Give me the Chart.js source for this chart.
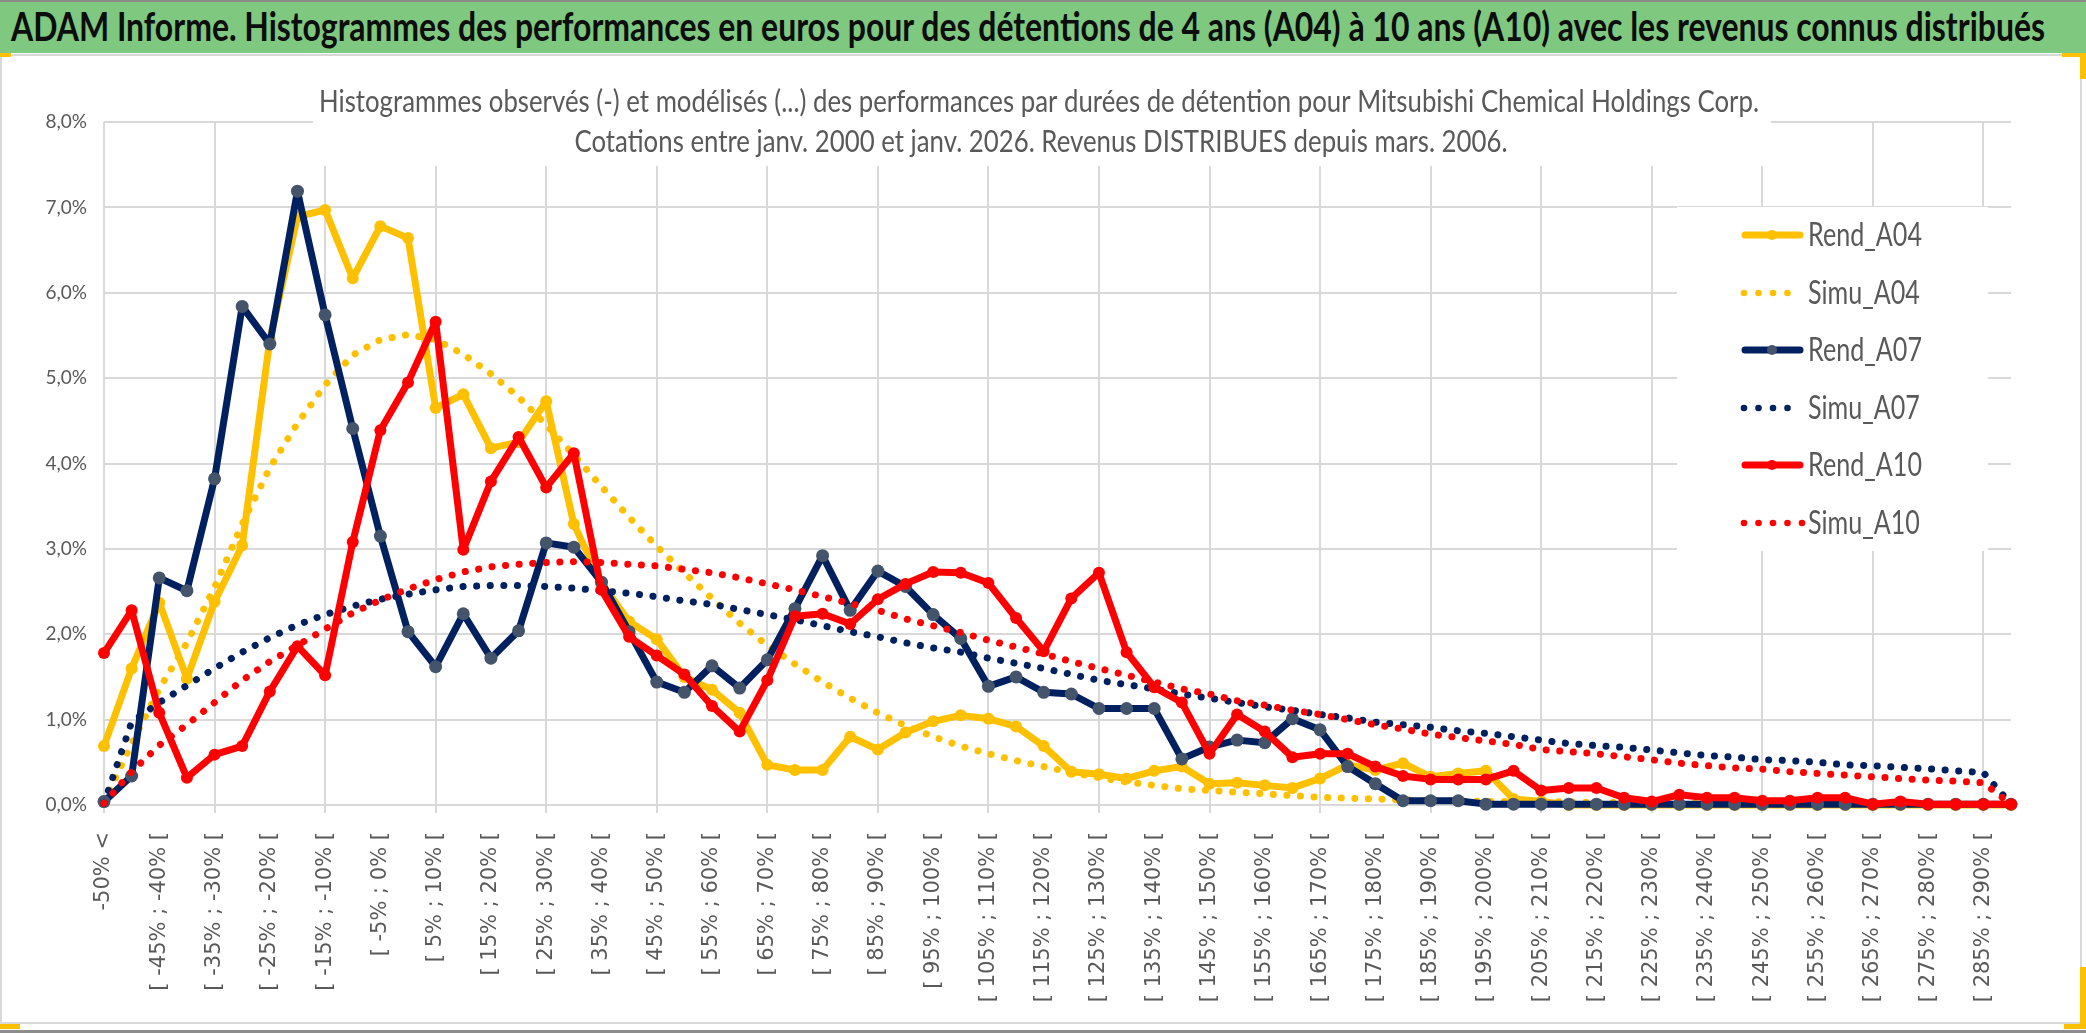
<!DOCTYPE html>
<html>
<head>
<meta charset="utf-8">
<script src="https://cdn.jsdelivr.net/npm/chart.js@4.4.1/dist/chart.umd.min.js"></script>
<style>
  html, body { margin: 0; padding: 0; background: #fff; }
  #page { position: relative; width: 2086px; height: 1033px; overflow: hidden; background: #fff; }
  #page div { position: absolute; }
  #topline { left: 0; top: 0; width: 2086px; height: 2px; background: #8c8c8c; }
  #titlebar { left: 0; top: 2px; width: 2086px; height: 51px; background: #7ec97f; }
  #title { left: 11px; top: 0; height: 51px; line-height: 51px; font: bold 40px Lato, sans-serif;
           color: #0d0d0d; white-space: nowrap; transform-origin: left center; }
  #frame { left: 0; top: 54px; width: 2078px; height: 966px; border: 2px solid #d9d9d9; }
  #bottomline { left: 0; top: 1030px; width: 2086px; height: 3px; background: #8c8c8c; }
  .mark { background: #ffc000; }
  canvas { position: absolute; left: 0; top: 0; }
</style>
</head>
<body>
<div id="page">
  <div id="frame"></div>
  <canvas id="chart" width="2086" height="1033"></canvas>
  <div id="topline"></div>
  <div id="titlebar"><div id="title">ADAM Informe. Histogrammes des performances en euros pour des détentions de 4 ans (A04) à 10 ans (A10) avec les revenus connus distribués</div></div>
  <div id="bottomline"></div>
  <div class="mark" style="left:0;top:53px;width:11px;height:4px"></div>
  <div class="mark" style="left:2062px;top:53px;width:24px;height:4px"></div>
  <div class="mark" style="left:2080px;top:53px;width:6px;height:26px"></div>
  <div class="mark" style="left:2080px;top:967px;width:6px;height:62px"></div>
  <div class="mark" style="left:2064px;top:1024px;width:22px;height:5px"></div>
  <div class="mark" style="left:0;top:1024px;width:20px;height:5px"></div>
</div>
<script>
const categories = [
  "-50% <", "[ -50% ; -45% [", "[ -45% ; -40% [", "[ -40% ; -35% [", "[ -35% ; -30% [",
  "[ -30% ; -25% [", "[ -25% ; -20% [", "[ -20% ; -15% [", "[ -15% ; -10% [", "[ -10% ; -5% [",
  "[ -5% ; 0% [", "[ 0% ; 5% [", "[ 5% ; 10% [", "[ 10% ; 15% [", "[ 15% ; 20% [",
  "[ 20% ; 25% [", "[ 25% ; 30% [", "[ 30% ; 35% [", "[ 35% ; 40% [", "[ 40% ; 45% [",
  "[ 45% ; 50% [", "[ 50% ; 55% [", "[ 55% ; 60% [", "[ 60% ; 65% [", "[ 65% ; 70% [",
  "[ 70% ; 75% [", "[ 75% ; 80% [", "[ 80% ; 85% [", "[ 85% ; 90% [", "[ 90% ; 95% [",
  "[ 95% ; 100% [", "[ 100% ; 105% [", "[ 105% ; 110% [", "[ 110% ; 115% [", "[ 115% ; 120% [",
  "[ 120% ; 125% [", "[ 125% ; 130% [", "[ 130% ; 135% [", "[ 135% ; 140% [", "[ 140% ; 145% [",
  "[ 145% ; 150% [", "[ 150% ; 155% [", "[ 155% ; 160% [", "[ 160% ; 165% [", "[ 165% ; 170% [",
  "[ 170% ; 175% [", "[ 175% ; 180% [", "[ 180% ; 185% [", "[ 185% ; 190% [", "[ 190% ; 195% [",
  "[ 195% ; 200% [", "[ 200% ; 205% [", "[ 205% ; 210% [", "[ 210% ; 215% [", "[ 215% ; 220% [",
  "[ 220% ; 225% [", "[ 225% ; 230% [", "[ 230% ; 235% [", "[ 235% ; 240% [", "[ 240% ; 245% [",
  "[ 245% ; 250% [", "[ 250% ; 255% [", "[ 255% ; 260% [", "[ 260% ; 265% [", "[ 265% ; 270% [",
  "[ 270% ; 275% [", "[ 275% ; 280% [", "[ 280% ; 285% [", "[ 285% ; 290% [", "[ 290% ; 295% ["
];

// values in %
const rendA04 = [
  0.69, 1.60, 2.37, 1.48, 2.38, 3.04, 5.45, 6.89, 6.97, 6.17,
  6.78, 6.64, 4.65, 4.81, 4.18, 4.25, 4.73, 3.29, 2.60, 2.15,
  1.94, 1.50, 1.35, 1.08, 0.47, 0.41, 0.41, 0.80, 0.65, 0.85,
  0.98, 1.05, 1.01, 0.92, 0.69, 0.39, 0.36, 0.31, 0.40, 0.45,
  0.25, 0.26, 0.23, 0.20, 0.31, 0.47, 0.41, 0.49, 0.33, 0.37,
  0.40, 0.07, 0.04, 0, 0, 0, 0, 0, 0, 0,
  0, 0, 0, 0, 0, 0, 0, 0, 0, 0
];
const simuA04 = [
  0.03, 0.72, 1.36, 1.90, 2.55, 3.29, 3.95, 4.47, 4.92, 5.27,
  5.45, 5.51, 5.45, 5.28, 5.05, 4.78, 4.45, 4.10, 3.73, 3.37,
  3.03, 2.72, 2.42, 2.13, 1.87, 1.65, 1.44, 1.25, 1.08, 0.93,
  0.80, 0.69, 0.60, 0.52, 0.45, 0.38, 0.32, 0.27, 0.23, 0.19,
  0.17, 0.15, 0.13, 0.11, 0.09, 0.08, 0.07, 0.06, 0.05, 0.05,
  0.04, 0.04, 0.04, 0.035, 0.03, 0.03, 0.025, 0.02, 0.02, 0.02,
  0.015, 0.015, 0.01, 0.01, 0.01, 0.01, 0.01, 0.01, 0.01, 0.01
];
const rendA07 = [
  0.04, 0.34, 2.66, 2.51, 3.82, 5.84, 5.40, 7.19, 5.74, 4.41,
  3.15, 2.03, 1.62, 2.24, 1.72, 2.04, 3.07, 3.02, 2.61, 2.03,
  1.44, 1.32, 1.63, 1.37, 1.70, 2.30, 2.92, 2.28, 2.74, 2.56,
  2.23, 1.95, 1.39, 1.50, 1.32, 1.30, 1.13, 1.13, 1.13, 0.54,
  0.68, 0.76, 0.73, 1.01, 0.88, 0.45, 0.25, 0.05, 0.05, 0.05,
  0.01, 0.01, 0.01, 0.01, 0.01, 0.01, 0.01, 0.01, 0.01, 0.01,
  0.01, 0.01, 0.01, 0.01, 0.01, 0.01, 0.01, 0.01, 0.01, 0.01
];
const simuA07 = [
  0.02, 0.97, 1.20, 1.40, 1.60, 1.79, 1.96, 2.11, 2.23, 2.33,
  2.41, 2.47, 2.52, 2.56, 2.57, 2.57, 2.56, 2.54, 2.51, 2.48,
  2.44, 2.39, 2.35, 2.29, 2.23, 2.17, 2.10, 2.03, 1.97, 1.90,
  1.84, 1.79, 1.72, 1.66, 1.60, 1.53, 1.46, 1.41, 1.36, 1.30,
  1.25, 1.20, 1.15, 1.11, 1.06, 1.02, 0.97, 0.94, 0.91, 0.87,
  0.84, 0.80, 0.76, 0.72, 0.695, 0.675, 0.645, 0.61, 0.58, 0.56,
  0.53, 0.52, 0.50, 0.47, 0.46, 0.44, 0.425, 0.40, 0.38, 0.01
];
const rendA10 = [
  1.78, 2.28, 1.08, 0.32, 0.59, 0.69, 1.33, 1.86, 1.52, 3.08,
  4.39, 4.95, 5.66, 2.99, 3.79, 4.31, 3.72, 4.12, 2.52, 1.97,
  1.75, 1.53, 1.16, 0.86, 1.46, 2.21, 2.24, 2.12, 2.41, 2.59,
  2.73, 2.72, 2.60, 2.19, 1.80, 2.42, 2.72, 1.79, 1.38, 1.20,
  0.60, 1.06, 0.86, 0.56, 0.60, 0.60, 0.45, 0.34, 0.30, 0.30,
  0.30, 0.40, 0.17, 0.20, 0.20, 0.085, 0.04, 0.12, 0.085, 0.085,
  0.05, 0.05, 0.085, 0.085, 0.01, 0.04, 0.01, 0.01, 0.01, 0.01
];
const simuA10 = [
  0.02, 0.39, 0.70, 0.94, 1.20, 1.46, 1.68, 1.87, 2.06, 2.25,
  2.40, 2.53, 2.64, 2.73, 2.79, 2.82, 2.84, 2.85, 2.84, 2.82,
  2.80, 2.76, 2.72, 2.66, 2.59, 2.52, 2.44, 2.36, 2.28, 2.18,
  2.10, 2.02, 1.93, 1.85, 1.77, 1.68, 1.60, 1.52, 1.44, 1.36,
  1.30, 1.22, 1.17, 1.11, 1.06, 1.00, 0.94, 0.89, 0.83, 0.79,
  0.75, 0.71, 0.65, 0.625, 0.60, 0.565, 0.53, 0.49, 0.46, 0.435,
  0.42, 0.39, 0.37, 0.35, 0.33, 0.31, 0.29, 0.28, 0.26, 0.01
];

const yMax = 8;
const yStep = 1;

const subtitleLines = [
  "Histogrammes observés (-) et modélisés (...) des performances par durées de détention pour Mitsubishi Chemical Holdings Corp.",
  "Cotations entre janv. 2000 et janv. 2026. Revenus DISTRIBUES depuis mars. 2006."
];

const ORANGE = "#ffc000", NAVY = "#002060", NAVY_MK = "#44546a", RED = "#ff0000";
const GRID = "#d9d9d9", TXT = "#595959";

// fit the big title to its width
const titleEl = document.getElementById("title");
const tw = titleEl.getBoundingClientRect().width;
titleEl.style.transform = `scaleX(${2034 / tw})`;

function rendSet(label, data, color, marker, r) {
  return {
    label, data, kind: "rend",
    borderColor: color, backgroundColor: marker,
    pointBackgroundColor: marker, pointBorderColor: marker,
    pointRadius: r, pointBorderWidth: 0, pointHoverRadius: r,
    borderWidth: 7, borderJoinStyle: "round", borderCapStyle: "round",
    tension: 0, clip: false
  };
}
function simuSet(label, data, color) {
  return {
    label, data, kind: "simu",
    borderColor: color, backgroundColor: color,
    borderWidth: 7, borderDash: [0.1, 13.5], borderCapStyle: "round",
    pointRadius: 0, tension: 0, clip: false
  };
}

const datasets = [
  rendSet("Rend_A04", rendA04, ORANGE, ORANGE, 6),
  simuSet("Simu_A04", simuA04, ORANGE),
  rendSet("Rend_A07", rendA07, NAVY, NAVY_MK, 6.5),
  simuSet("Simu_A07", simuA07, NAVY),
  rendSet("Rend_A10", rendA10, RED, RED, 6),
  simuSet("Simu_A10", simuA10, RED)
];
// excel draws the later series on top
datasets.forEach((d, i) => { d.order = datasets.length - i; });

function scaledText(ctx, text, x, y, sx, sy, align) {
  ctx.save();
  ctx.translate(x, y);
  ctx.scale(sx, sy);
  ctx.textAlign = align;
  ctx.fillText(text, 0, 0);
  ctx.restore();
}

// white title box + legend box over the grid, like the excel chart
const overlay = {
  id: "overlay",
  beforeDatasetsDraw(chart) {
    const ctx = chart.ctx;
    ctx.save();
    ctx.fillStyle = "#fff";
    ctx.fillRect(313, 76, 1458, 90);
    ctx.fillRect(1677, 207, 311, 344);

    ctx.fillStyle = TXT;
    ctx.textBaseline = "middle";
    ctx.font = "28px Lato";
    const sx = 1440 / ctx.measureText(subtitleLines[0]).width;
    scaledText(ctx, subtitleLines[0], 1039, 102, sx, 1.1, "center");
    scaledText(ctx, subtitleLines[1], 1041, 142, sx, 1.1, "center");

    ctx.font = "29px Lato";
    const lsx = 114 / ctx.measureText("Rend_A04").width;
    const ys = [235, 293, 350, 408, 465, 523];
    chart.data.datasets.forEach((d, i) => {
      const y = ys[i];
      if (d.kind === "rend") {
        ctx.strokeStyle = d.borderColor;
        ctx.lineWidth = 7;
        ctx.lineCap = "round";
        ctx.beginPath();
        ctx.moveTo(1745, y);
        ctx.lineTo(1800, y);
        ctx.stroke();
        ctx.fillStyle = d.pointBackgroundColor;
        ctx.beginPath();
        ctx.arc(1772, y, 5, 0, Math.PI * 2);
        ctx.fill();
      } else {
        ctx.fillStyle = d.borderColor;
        const n = i === 5 ? 5 : 4;
        for (let k = 0; k < n; k++) {
          ctx.beginPath();
          ctx.arc(1744 + k * 14.5, y, 3.3, 0, Math.PI * 2);
          ctx.fill();
        }
      }
      ctx.fillStyle = TXT;
      scaledText(ctx, d.label, 1808, y + 1, lsx, 1.12, "left");
    });
    ctx.restore();
  }
};

new Chart(document.getElementById("chart"), {
  type: "line",
  data: { labels: categories, datasets },
  plugins: [overlay],
  options: {
    responsive: false,
    devicePixelRatio: 1,
    animation: false,
    events: [],
    layout: { padding: { top: 122, right: 75, left: 0, bottom: 0 } },
    plugins: { legend: { display: false }, tooltip: { enabled: false }, title: { display: false } },
    scales: {
      x: {
        type: "category",
        offset: false,
        afterFit: (s) => { s.height = 228; },
        border: { display: false },
        grid: {
          color: (c) => (c.index % 4 === 0 ? GRID : "rgba(0,0,0,0)"),
          lineWidth: 2,
          tickLength: 8,
          drawTicks: true
        },
        ticks: {
          autoSkip: false,
          minRotation: 90,
          maxRotation: 90,
          padding: 19,
          color: TXT,
          font: { family: "DejaVu Sans", size: 21 },
          callback: function (v, i) { return i % 2 === 0 ? this.getLabelForValue(v) : ""; }
        }
      },
      y: {
        min: 0,
        max: yMax,
        afterFit: (s) => { s.width = 104; },
        border: { display: false },
        grid: { color: GRID, lineWidth: 2, drawTicks: false },
        ticks: {
          stepSize: yStep,
          padding: 17,
          color: TXT,
          font: { family: "Lato", size: 19 },
          callback: (v) => v.toFixed(1).replace(".", ",") + "%"
        }
      }
    }
  }
});
</script>
</body>
</html>
